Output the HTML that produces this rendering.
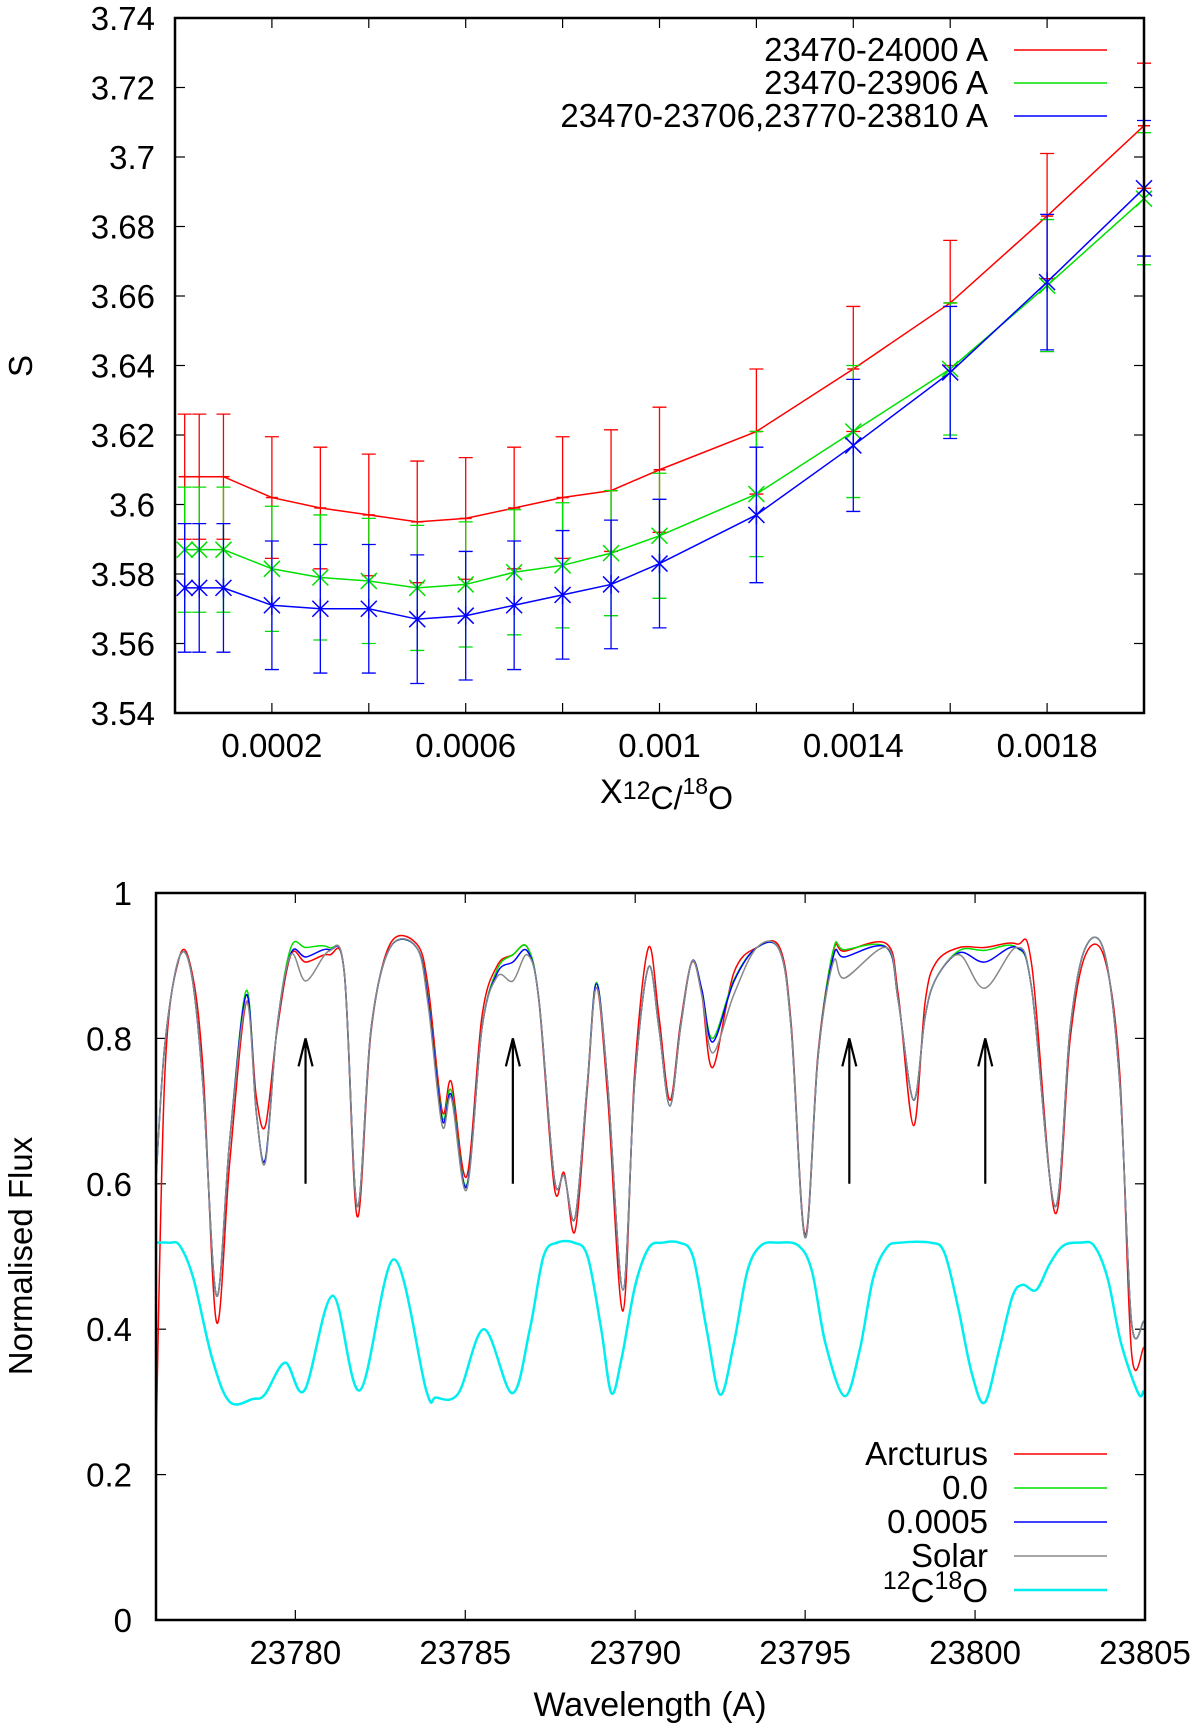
<!DOCTYPE html>
<html><head><meta charset="utf-8"><style>
html,body{margin:0;padding:0;background:#fff}
svg{display:block}
text{font-family:"Liberation Sans",sans-serif;fill:#000}
</style></head><body>
<svg id="chart" width="1200" height="1732" viewBox="0 0 1200 1732" xmlns="http://www.w3.org/2000/svg">
<g id="top"></g>
<g id="bot"></g>
</svg>
<script>
// ---------- top panel data ----------
const xVals = [0.00002,0.00005,0.0001,0.0002,0.0003,0.0004,0.0005,0.0006,0.0007,0.0008,0.0009,0.001,0.0012,0.0014,0.0016,0.0018,0.002];
const redS = [3.608,3.608,3.608,3.602,3.599,3.597,3.595,3.596,3.599,3.602,3.604,3.610,3.621,3.639,3.658,3.683,3.709];
const greenS = [3.587,3.587,3.587,3.5815,3.579,3.578,3.576,3.577,3.5805,3.5825,3.586,3.591,3.603,3.621,3.639,3.663,3.688];
const blueS = [3.576,3.576,3.576,3.571,3.570,3.570,3.567,3.568,3.571,3.574,3.577,3.583,3.597,3.617,3.638,3.664,3.691];
const redErr = [0.018,0.018,0.018,0.0175,0.0175,0.0175,0.0175,0.0175,0.0175,0.0175,0.0175,0.018,0.018,0.018,0.018,0.018,0.018];
const greenErr = [0.018,0.018,0.018,0.018,0.018,0.018,0.018,0.018,0.018,0.018,0.018,0.018,0.018,0.019,0.019,0.019,0.019];
const blueErr = [0.0185,0.0185,0.0185,0.0185,0.0185,0.0185,0.0185,0.0185,0.0185,0.0185,0.0185,0.0185,0.0195,0.019,0.019,0.0195,0.0195];
const topYTicks = ["3.54","3.56","3.58","3.6","3.62","3.64","3.66","3.68","3.7","3.72","3.74"];
const topXTickVals = [0.0002,0.0004,0.0006,0.0008,0.001,0.0012,0.0014,0.0016,0.0018];
const topXLabels = ["0.0002","","0.0006","","0.001","","0.0014","","0.0018"];
const topLegend = ["23470-24000 A","23470-23906 A","23470-23706,23770-23810 A"];

// ---------- bottom panel data ----------
const wl = [23775.89,23776.16,23776.58,23776.94,23777.28,23777.68,23778.07,23778.56,23778.85,23779.12,23779.46,23779.87,23780.31,23780.99,23781.44,23781.82,23782.23,23782.79,23783.57,23783.91,23784.32,23784.59,23785.04,23785.49,23785.94,23786.40,23786.83,23787.17,23787.62,23787.91,23788.23,23788.59,23788.86,23789.19,23789.64,23789.98,23790.39,23790.70,23791.02,23791.33,23791.67,23791.96,23792.28,23792.90,23793.58,23794.25,23794.59,23795.00,23795.38,23795.83,23796.16,23797.40,23797.74,23798.19,23798.53,23798.86,23799.54,23800.28,23801.22,23801.67,23802.35,23802.80,23803.25,23803.81,23804.26,23804.60,23804.96];
const fluxZero = [0.599,0.791,0.911,0.890,0.737,0.446,0.660,0.866,0.699,0.634,0.814,0.925,0.925,0.925,0.891,0.569,0.814,0.925,0.925,0.855,0.692,0.728,0.598,0.814,0.895,0.915,0.925,0.852,0.607,0.611,0.553,0.737,0.877,0.737,0.454,0.737,0.898,0.814,0.707,0.814,0.906,0.867,0.800,0.880,0.925,0.921,0.814,0.526,0.775,0.922,0.922,0.925,0.852,0.715,0.830,0.883,0.921,0.921,0.925,0.867,0.569,0.814,0.925,0.917,0.737,0.411,0.411];
const fluxHalf = [0.599,0.791,0.911,0.890,0.737,0.446,0.660,0.860,0.699,0.634,0.814,0.917,0.912,0.922,0.891,0.569,0.814,0.925,0.925,0.852,0.688,0.722,0.596,0.814,0.890,0.905,0.920,0.852,0.607,0.611,0.553,0.737,0.875,0.737,0.454,0.737,0.898,0.814,0.707,0.814,0.906,0.867,0.795,0.878,0.925,0.921,0.814,0.526,0.775,0.913,0.912,0.925,0.852,0.715,0.830,0.883,0.918,0.905,0.925,0.867,0.569,0.814,0.925,0.917,0.737,0.411,0.411];
const fluxSolar = [0.599,0.791,0.911,0.890,0.737,0.446,0.660,0.850,0.699,0.630,0.814,0.915,0.879,0.920,0.891,0.569,0.814,0.925,0.925,0.845,0.680,0.718,0.592,0.814,0.885,0.879,0.915,0.852,0.607,0.611,0.553,0.737,0.870,0.737,0.454,0.737,0.898,0.814,0.707,0.814,0.906,0.860,0.780,0.860,0.925,0.921,0.814,0.526,0.775,0.905,0.883,0.925,0.852,0.715,0.830,0.883,0.915,0.869,0.925,0.867,0.569,0.814,0.925,0.917,0.737,0.411,0.411];
const fluxArcturus = [0.22,0.75,0.91,0.895,0.76,0.41,0.63,0.85,0.72,0.68,0.81,0.915,0.905,0.915,0.89,0.555,0.81,0.93,0.93,0.87,0.70,0.74,0.61,0.83,0.90,0.915,0.925,0.85,0.595,0.615,0.535,0.73,0.87,0.72,0.425,0.75,0.925,0.83,0.715,0.82,0.905,0.86,0.76,0.89,0.925,0.925,0.82,0.53,0.78,0.92,0.92,0.93,0.86,0.68,0.85,0.905,0.925,0.925,0.93,0.90,0.56,0.80,0.915,0.91,0.75,0.37,0.375];
const coWl = [23775.89,23776.3,23776.6,23777.0,23777.55,23778.07,23778.75,23779.1,23779.7,23780.27,23781.1,23781.9,23782.9,23783.85,23784.14,23784.8,23785.55,23786.38,23786.9,23787.3,23787.7,23788.2,23788.6,23789.0,23789.3,23789.6,23790.0,23790.4,23790.8,23791.3,23791.7,23792.1,23792.5,23792.9,23793.3,23793.7,23794.2,23794.8,23795.2,23795.6,23796.16,23796.6,23797.0,23797.4,23797.8,23798.7,23799.1,23799.5,23799.9,23800.28,23800.7,23801.1,23801.4,23801.8,23802.2,23802.6,23803.1,23803.5,23803.9,23804.3,23804.8,23804.96];
const coFlux = [0.519,0.519,0.515,0.47,0.36,0.300,0.304,0.31,0.354,0.316,0.446,0.316,0.496,0.316,0.306,0.312,0.400,0.312,0.40,0.50,0.519,0.519,0.50,0.40,0.312,0.36,0.46,0.512,0.519,0.519,0.50,0.40,0.31,0.38,0.48,0.515,0.519,0.515,0.48,0.38,0.308,0.37,0.47,0.512,0.519,0.519,0.505,0.43,0.34,0.299,0.37,0.445,0.461,0.454,0.49,0.515,0.519,0.515,0.47,0.38,0.312,0.315];
const arrowWl = [23780.3,23786.4,23796.3,23800.3];
const botYTicks = [0,0.2,0.4,0.6,0.8,1];
const botYLabels = ["0","0.2","0.4","0.6","0.8","1"];
const botXTicks = [23780,23785,23790,23795,23800,23805];
const botLegend = ["Arcturus","0.0","0.0005","Solar"];

const NS="http://www.w3.org/2000/svg";
function mk(parent,tag,attrs){const e=document.createElementNS(NS,tag);for(const k in attrs)e.setAttribute(k,attrs[k]);parent.appendChild(e);return e;}
const FS=33;

// ---------- TOP ----------
const T=document.getElementById('top');
const tL=175,tR=1144,tT=18,tB=713;
const sx=v=>tL+v/0.002*(tR-tL);
const sy=v=>tB-(v-3.54)/0.2*(tB-tT);
topYTicks.forEach(lbl=>{
  const y=sy(parseFloat(lbl));
  const a=mk(T,'line',{x1:tL,y1:y,x2:tL+10,y2:y,stroke:'#000','stroke-width':1.2});
  
  const b=mk(T,'line',{x1:tR,y1:y,x2:tR-10,y2:y,stroke:'#000','stroke-width':1.2});
  
  const t=mk(T,'text',{x:tL-20,y:y+12,'text-anchor':'end','font-size':FS});
  
  t.textContent=lbl;
});
topXTickVals.forEach((v,i)=>{
  const x=sx(v);
  const a=mk(T,'line',{x1:x,y1:tB,x2:x,y2:tB-10,stroke:'#000','stroke-width':1.2});
  
  const b=mk(T,'line',{x1:x,y1:tT,x2:x,y2:tT+10,stroke:'#000','stroke-width':1.2});
  
  if(topXLabels[i]){
    const t=mk(T,'text',{x:x,y:tB+44,'text-anchor':'middle','font-size':FS});
    
    t.textContent=topXLabels[i];
  }
});
function drawSeries(vals,errs,color,marker,name){
  const g=mk(T,'g',{});
  
  xVals.forEach((v,i)=>{
    const x=sx(v),y1=sy(vals[i]-errs[i]),y2=sy(vals[i]+errs[i]);
    const e=mk(g,'path',{d:`M${x},${y1}V${y2}M${x-7},${y1}H${x+7}M${x-7},${y2}H${x+7}`,stroke:color,'stroke-width':1.3,fill:'none'});
    
  });
  const d=xVals.map((v,i)=>(i?'L':'M')+sx(v)+','+sy(vals[i])).join('');
  const l=mk(g,'path',{d:d,stroke:color,'stroke-width':1.5,fill:'none'});
  
  xVals.forEach((v,i)=>{
    const x=sx(v),y=sy(vals[i]),s=8;
    let d='';
    if(marker==='x'||marker==='*')d+=`M${x-s},${y-s}L${x+s},${y+s}M${x-s},${y+s}L${x+s},${y-s}`;
    if(marker==='*')d+=`M${x},${y-s*1.2}V${y+s*1.2}`;
    if(marker==='+')d+=`M${x-6},${y}H${x+6}`;
    const m=mk(g,'path',{d:d,stroke:color,'stroke-width':1.5,fill:'none'});
    
  });
}
drawSeries(redS,redErr,'#ff0000','+','series-23470-24000');
drawSeries(greenS,greenErr,'#00e000','x','series-23470-23906');
drawSeries(blueS,blueErr,'#0000ff','*','series-23470-23810');
const tFrame=mk(T,'rect',{x:tL,y:tT,width:tR-tL,height:tB-tT,fill:'none',stroke:'#000','stroke-width':2.5});

const topCols=['#ff0000','#00e000','#0000ff'];
topLegend.forEach((lbl,i)=>{
  const y=50+i*33;
  const t=mk(T,'text',{x:988,y:y+11,'text-anchor':'end','font-size':FS});
  
  t.textContent=lbl;
  const l=mk(T,'line',{x1:1014,y1:y,x2:1107,y2:y,stroke:topCols[i],'stroke-width':1.5});
  
});
const sLab=mk(T,'text',{x:32,y:366,'text-anchor':'middle','font-size':FS,transform:'rotate(-90 32 366)'});

sLab.textContent='S';
const xLab=mk(T,'text',{x:600,y:803,'font-size':34});

xLab.innerHTML='X<tspan font-size="25" dy="-4">12</tspan><tspan font-size="32" dy="10">C/</tspan><tspan font-size="23" dy="-15">18</tspan><tspan font-size="32" dy="15">O</tspan>';

// ---------- BOTTOM ----------
const B=document.getElementById('bot');
const bL=156,bR=1145,bT=893,bB=1620;
const bx=w=>bL+(w-23775.9)/29.1*(bR-bL);
const by=f=>bB-f*(bB-bT);
botYTicks.forEach((v,i)=>{
  const y=by(v);
  const a=mk(B,'line',{x1:bL,y1:y,x2:bL+10,y2:y,stroke:'#000','stroke-width':1.2});
  
  const b=mk(B,'line',{x1:bR,y1:y,x2:bR-10,y2:y,stroke:'#000','stroke-width':1.2});
  
  const t=mk(B,'text',{x:bL-24,y:y+12,'text-anchor':'end','font-size':FS});
  
  t.textContent=botYLabels[i];
});
botXTicks.forEach(v=>{
  const x=bx(v);
  const a=mk(B,'line',{x1:x,y1:bB,x2:x,y2:bB-10,stroke:'#000','stroke-width':1.2});
  
  const b=mk(B,'line',{x1:x,y1:bT,x2:x,y2:bT+10,stroke:'#000','stroke-width':1.2});
  
  const t=mk(B,'text',{x:x,y:bB+44,'text-anchor':'middle','font-size':FS});
  
  t.textContent=String(v);
});
function smooth(xs,ys){
  const p=xs.map((w,i)=>[bx(w),by(ys[i])]);
  let d='M'+p[0][0]+','+p[0][1];
  for(let i=0;i<p.length-1;i++){
    const p0=p[Math.max(0,i-1)],p1=p[i],p2=p[i+1],p3=p[Math.min(p.length-1,i+2)];
    const c1=[p1[0]+(p2[0]-p0[0])/6,p1[1]+(p2[1]-p0[1])/6];
    const c2=[p2[0]-(p3[0]-p1[0])/6,p2[1]-(p3[1]-p1[1])/6];
    d+=`C${c1[0]},${c1[1]} ${c2[0]},${c2[1]} ${p2[0]},${p2[1]}`;
  }
  return d;
}
const specSeries=[[fluxArcturus,'#ff0000',1.5,'spectrum-arcturus'],[fluxZero,'#00e000',1.5,'spectrum-0-0'],[fluxHalf,'#0000ff',1.5,'spectrum-0-0005'],[fluxSolar,'#888888',1.5,'spectrum-solar']];
specSeries.forEach(s=>{
  const p=mk(B,'path',{d:smooth(wl,s[0]),stroke:s[1],'stroke-width':s[2],fill:'none'});
  
});
const co=mk(B,'path',{d:smooth(coWl,coFlux),stroke:'#00eeee','stroke-width':2.5,fill:'none'});

arrowWl.forEach(w=>{
  const x=bx(w),y0=by(0.6),y1=by(0.8);
  const a=mk(B,'path',{d:`M${x},${y0}V${y1}M${x-7},${y1+28}L${x},${y1}L${x+7},${y1+28}`,stroke:'#000','stroke-width':2.2,fill:'none'});
  
});
const bFrame=mk(B,'rect',{x:bL,y:bT,width:bR-bL,height:bB-bT,fill:'none',stroke:'#000','stroke-width':2.5});

const botCols=['#ff0000','#00e000','#0000ff','#888888'];
botLegend.forEach((lbl,i)=>{
  const y=1454+i*34;
  const t=mk(B,'text',{x:988,y:y+11,'text-anchor':'end','font-size':FS});
  
  t.textContent=lbl;
  const l=mk(B,'line',{x1:1014,y1:y,x2:1107,y2:y,stroke:botCols[i],'stroke-width':1.5});
  
});
const coT=mk(B,'text',{x:988,y:1602,'text-anchor':'end','font-size':FS});

coT.innerHTML='<tspan font-size="25" dy="-13">12</tspan><tspan dy="13">C</tspan><tspan font-size="25" dy="-13">18</tspan><tspan dy="13">O</tspan>';
const coL=mk(B,'line',{x1:1014,y1:1590,x2:1107,y2:1590,stroke:'#00eeee','stroke-width':2.5});

const yT=mk(B,'text',{x:32,y:1256,'text-anchor':'middle','font-size':FS,transform:'rotate(-90 32 1256)'});

yT.textContent='Normalised Flux';
const xT=mk(B,'text',{x:650,y:1716,'text-anchor':'middle','font-size':34});

xT.textContent='Wavelength (A)';
</script>
</body></html>
